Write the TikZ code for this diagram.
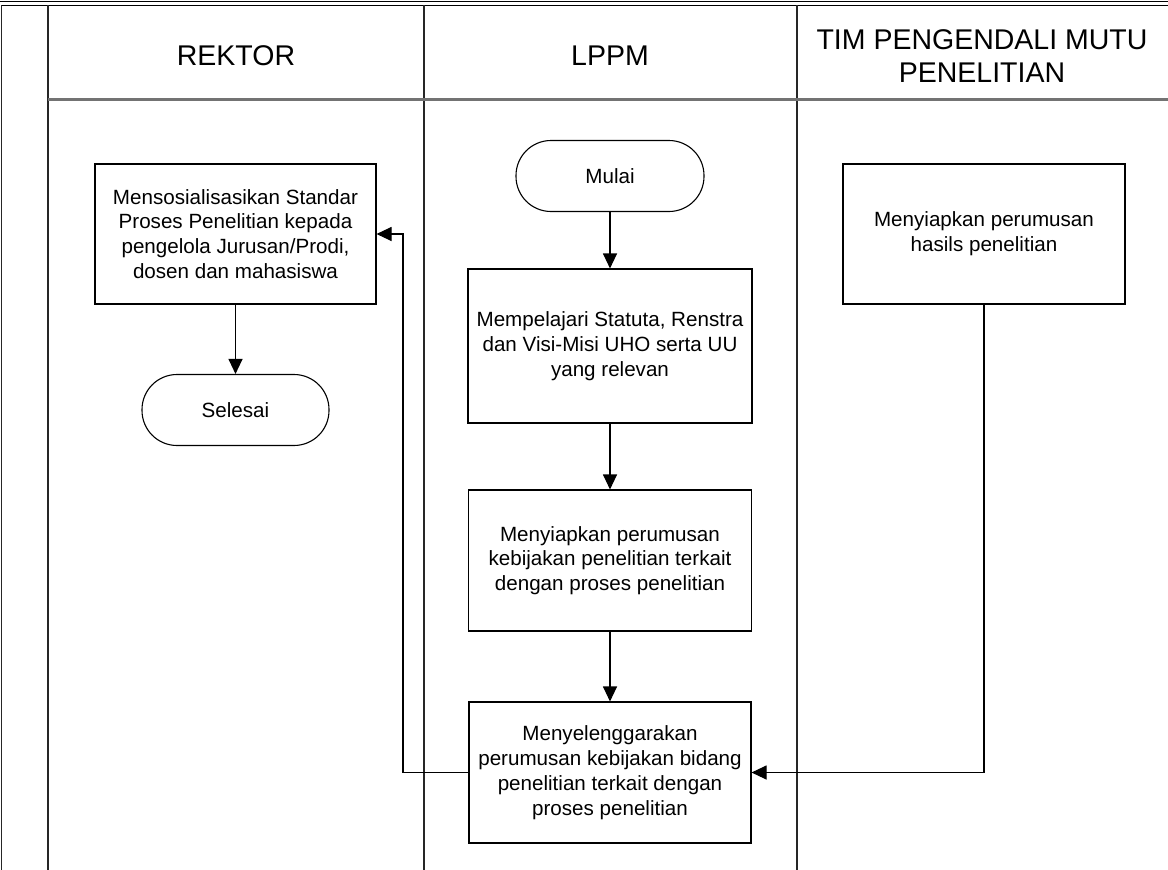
\documentclass[tikz,border=0pt]{standalone}
\usepackage{fontspec}
\setmainfont{Liberation Sans}
\usetikzlibrary{arrows.meta}
\begin{document}
\begin{tikzpicture}[x=1pt,y=-1pt,
  box/.style={draw, line width=1.1pt, align=center, inner sep=0pt,
    font=\fontsize{20.6}{24.8}\selectfont},
  term/.style={box, rounded corners=35pt},
  hdr/.style={align=center, font=\fontsize{28.5}{33}\selectfont},
  lane/.style={line width=1.5pt, black!85},
  arr/.style={line width=1.1pt, -{Triangle[length=15pt,width=14pt]}}]
\useasboundingbox (0,0) rectangle (1168,870);
% frame and lanes
\draw[line width=1.2pt] (0,1.3) -- (1168,1.3);
\draw[line width=1.2pt] (1.3,5.3) -- (1168,5.3);
\draw[lane] (1.3,5.3) -- (1.3,870);
\draw[lane] (48,5.3) -- (48,870);
\draw[lane] (424,5.3) -- (424,870);
\draw[lane] (797,5.3) -- (797,870);
\draw[line width=2.2pt, black!55] (48,99.5) -- (1168,99.5);
% headers
\node[hdr] (hr) at (236,56) {REKTOR};
\node[hdr] (hl) at (610,56) {LPPM};
\node[hdr] (ht) at (982,56) {TIM PENGENDALI MUTU\\PENELITIAN};
% nodes
\node[box, minimum width=281pt, minimum height=140pt] (rek) at (235.5,234)
  {Mensosialisasikan Standar\\Proses Penelitian kepada\\pengelola Jurusan/Prodi,\\dosen dan mahasiswa};
\node[term, minimum width=187pt, minimum height=71pt] (sel) at (235.5,410) {Selesai};
\node[term, minimum width=188pt, minimum height=71pt] (mul) at (610,176) {Mulai};
\node[box, minimum width=284pt, minimum height=154pt] (b2) at (610,346)
  {Mempelajari Statuta, Renstra\\dan Visi-Misi UHO serta UU\\yang relevan};
\node[box, minimum width=283pt, minimum height=141pt] (b3) at (610,560.5)
  {Menyiapkan perumusan\\kebijakan penelitian terkait\\dengan proses penelitian};
\node[box, minimum width=282pt, minimum height=141pt] (b4) at (610,772.5)
  {Menyelenggarakan\\perumusan kebijakan bidang\\penelitian terkait dengan\\proses penelitian};
\node[box, minimum width=282pt, minimum height=140pt] (tim) at (984,234)
  {Menyiapkan perumusan\\hasils penelitian};
\coordinate (lx) at (403,234);
% connectors
\draw[arr] (mul) -- (b2);
\draw[arr] (b2) -- (b3);
\draw[arr] (b3) -- (b4);
\draw[arr] (rek) -- (sel);
\draw[arr] (b4.west) -| (lx) -- (rek.east);
\draw[arr] (tim.south) |- (b4.east);
\end{tikzpicture}
\end{document}
